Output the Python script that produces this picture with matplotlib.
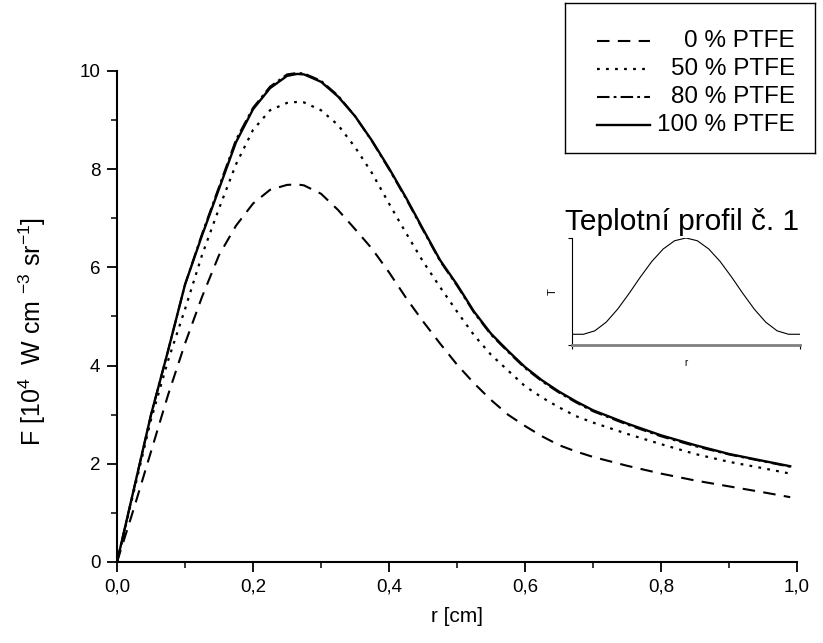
import matplotlib
matplotlib.use('Agg')
import matplotlib.pyplot as plt
from matplotlib.ticker import MultipleLocator

plt.rcParams['font.family'] = ['Liberation Sans', 'DejaVu Sans']
plt.rcParams['mathtext.default'] = 'regular'
plt.rcParams['lines.scale_dashes'] = False

# radius [cm]
r = [0, 0.025, 0.05, 0.075, 0.1, 0.125, 0.15, 0.175, 0.2, 0.225, 0.25, 0.265,
     0.275, 0.3, 0.325, 0.35, 0.375, 0.4, 0.425, 0.45, 0.475, 0.5, 0.525, 0.55,
     0.575, 0.6, 0.625, 0.65, 0.675, 0.7, 0.75, 0.8, 0.85, 0.9, 0.95, 0.99]

f_0 = [0, 1.1, 2.25, 3.4, 4.45, 5.4, 6.25, 6.85, 7.3, 7.58, 7.68, 7.69,
       7.67, 7.5, 7.17, 6.78, 6.38, 5.9, 5.38, 4.9, 4.45, 4.02, 3.64, 3.3,
       3.0, 2.77, 2.56, 2.38, 2.25, 2.14, 1.96, 1.8, 1.66, 1.54, 1.42, 1.32]

f_50 = [0, 1.45, 2.9, 4.1, 5.15, 6.25, 7.2, 8.1, 8.8, 9.2, 9.35, 9.37,
        9.36, 9.2, 8.9, 8.45, 7.92, 7.3, 6.7, 6.12, 5.6, 5.1, 4.62, 4.22,
        3.9, 3.58, 3.35, 3.15, 2.97, 2.84, 2.61, 2.4, 2.2, 2.04, 1.91, 1.8]

f_80 = [0, 1.5, 3.0, 4.3, 5.65, 6.68, 7.64, 8.6, 9.25, 9.68, 9.93, 9.96,
        9.95, 9.8, 9.5, 9.08, 8.57, 8.0, 7.4, 6.76, 6.13, 5.63, 5.08, 4.63,
        4.28, 3.95, 3.68, 3.45, 3.25, 3.07, 2.8, 2.56, 2.36, 2.19, 2.05, 1.94]

f_100 = [0, 1.5, 3.0, 4.3, 5.65, 6.65, 7.6, 8.55, 9.22, 9.65, 9.9, 9.94,
         9.93, 9.78, 9.48, 9.08, 8.58, 8.02, 7.42, 6.78, 6.15, 5.65, 5.1, 4.65,
         4.3, 3.97, 3.7, 3.47, 3.27, 3.09, 2.82, 2.58, 2.38, 2.2, 2.06, 1.95]

labels = ['0 % PTFE', '50 % PTFE', '80 % PTFE', '100 % PTFE']

# temperature profile (inset), relative units
r_t = [0, 0.045, 0.05, 0.1, 0.15, 0.2, 0.25, 0.3, 0.35, 0.4, 0.45, 0.5,
       0.55, 0.6, 0.65, 0.7, 0.75, 0.8, 0.85, 0.9, 0.95, 0.955, 1.0]
t_prof = [0.1, 0.1, 0.1, 0.132, 0.213, 0.334, 0.48, 0.635, 0.78, 0.897, 0.974, 1.0,
          0.974, 0.897, 0.78, 0.635, 0.48, 0.334, 0.213, 0.132, 0.1, 0.1, 0.1]

xticks = [0, 0.2, 0.4, 0.6, 0.8, 1.0]
xtick_labels = ['0,0', '0,2', '0,4', '0,6', '0,8', '1,0']
yticks = [0, 2, 4, 6, 8, 10]
ytick_labels = ['0', '2', '4', '6', '8', '10']

styles = [dict(dashes=(9, 6), lw=1.5),
          dict(dashes=(2, 4.5), lw=1.6),
          dict(dashes=(9, 3, 2, 3), lw=1.5),
          dict(linestyle='-', lw=1.7)]
series = [f_0, f_50, f_80, f_100]

fig = plt.figure(figsize=(8.23, 6.43), dpi=100)
ax = fig.add_axes([0.1422, 0.126, 0.8262, 0.7636])

for y, st in zip(series, styles):
    ax.plot(r, y, color='black', **st)

ax.set_xlim(0, 1)
ax.set_ylim(0, 10)
ax.set_xticks(xticks)
ax.set_xticklabels(xtick_labels)
ax.set_yticks(yticks)
ax.set_yticklabels(ytick_labels)
ax.xaxis.set_minor_locator(MultipleLocator(0.1))
ax.yaxis.set_minor_locator(MultipleLocator(1))
ax.tick_params(which='major', direction='out', length=7, width=1.3, labelsize=13.5, pad=5)
ax.tick_params(which='minor', direction='out', length=4.5, width=1.1)
for s in ['top', 'right']:
    ax.spines[s].set_visible(False)
for s in ['left', 'bottom']:
    ax.spines[s].set_linewidth(1.5)
ax.set_xlabel('r [cm]', fontsize=15, labelpad=8)
ax.set_ylabel(r'F [10$^4$  W cm $^{-3}$ sr$^{-1}$]', fontsize=18, labelpad=10)
ax.yaxis.set_label_coords(-0.102, 0.47)

# legend drawn in its own framed box
lax = fig.add_axes([0.6865, 0.762, 0.3038, 0.2333])
lax.set_xlim(0, 1)
lax.set_ylim(0, 1)
lax.set_xticks([])
lax.set_yticks([])
for s in lax.spines.values():
    s.set_linewidth(1.0)
for i, (lab, st) in enumerate(zip(labels, styles)):
    yy = 0.747 - i * 0.187
    lax.plot([0.128, 0.34], [yy, yy], color='black', **st)
    lax.text(0.92, yy, lab, ha='right', va='center', fontsize=17.5)

# inset with temperature profile
fig.text(0.687, 1 - 222 / 643, 'Teplotní profil č. 1', ha='left', va='center', fontsize=21.5)
iax = fig.add_axes([0.695, 0.4635, 0.277, 0.1664])
iax.plot(r_t, t_prof, color='black', lw=0.8)
iax.set_xlim(0, 1)
iax.set_ylim(0, 1)
iax.set_xticks([0, 1])
iax.set_yticks([0, 1])
iax.set_xticklabels([])
iax.set_yticklabels([])
iax.tick_params(direction='out', length=3, width=0.8)
iax.spines['top'].set_visible(False)
iax.spines['right'].set_visible(False)
iax.spines['left'].set_linewidth(0.8)
iax.spines['bottom'].set_linewidth(2)
iax.spines['bottom'].set_color('#808080')
iax.set_xlabel('r', fontsize=7, labelpad=3)
iax.set_ylabel('T', fontsize=8, labelpad=4)

fig.savefig('out.png', dpi=100)
